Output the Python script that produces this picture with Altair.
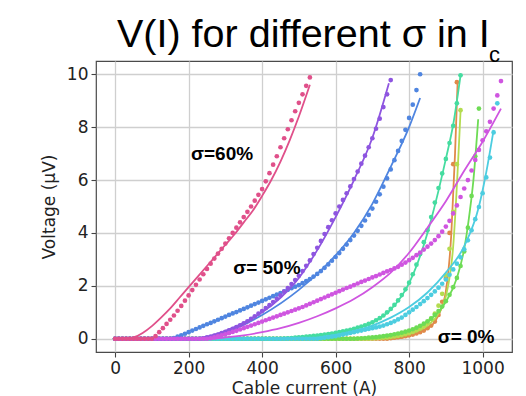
import altair as alt
import pandas as pd

# ---------------- data ----------------
# sigma = 60 % (pink)
pink_dot_I = list(range(0, 540, 10))
pink_dot_V = [0] * 11 + [0.1, 0.25, 0.4, 0.56, 0.72, 0.88, 1.06, 1.24, 1.44, 1.64,
                         1.84, 2.04, 2.24, 2.44, 2.64, 2.84, 3.03, 3.22, 3.4, 3.6,
                         3.8, 4.0, 4.2, 4.4, 4.6, 4.8, 5.0, 5.22, 5.44, 5.66,
                         5.95, 6.26, 6.58, 6.9, 7.24, 7.58, 7.92, 8.26, 8.6, 8.92,
                         9.24, 9.56, 9.88]
pink_fit_I = [0, 25, 50, 75, 100, 125, 150, 175, 200, 225, 250, 275, 300, 325, 350, 375, 400, 425, 450, 475, 500, 530]
pink_fit_V = [0, 0, 0.05, 0.22, 0.48, 0.8, 1.15, 1.55, 1.95, 2.35, 2.75, 3.15, 3.55, 3.95, 4.4, 4.85, 5.4, 6.0, 6.7, 7.5, 8.4, 9.6]

# purple
purple_dot_I = list(range(0, 760, 10))
purple_dot_V = [0] * 24 + [0.02, 0.05, 0.08, 0.12, 0.16, 0.21, 0.26, 0.32, 0.38, 0.44,
                           0.51, 0.58, 0.66, 0.75, 0.85, 0.95, 1.05, 1.16, 1.27, 1.39,
                           1.51, 1.64, 1.78, 1.92, 2.07, 2.22, 2.38, 2.56, 2.76, 2.96,
                           3.2, 3.44, 3.7, 3.96, 4.22, 4.48, 4.74, 5.0, 5.25, 5.5,
                           5.76, 6.04, 6.32, 6.62, 6.92, 7.24, 7.58, 7.94, 8.32, 8.76,
                           9.24, 9.78]
purple_fit_I = [0, 200, 250, 300, 350, 400, 450, 500, 550, 600, 650, 700, 745]
purple_fit_V = [0, 0, 0.08, 0.3, 0.6, 1.0, 1.55, 2.3, 3.35, 4.6, 6.0, 7.6, 9.66]

# blue
blue_dot_I = list(range(0, 840, 10))
blue_dot_V = [0] * 16 + [0.03, 0.08, 0.13, 0.19, 0.25, 0.31, 0.37, 0.43, 0.49, 0.55,
                         0.6, 0.66, 0.72, 0.78, 0.84, 0.9, 0.96, 1.01, 1.07, 1.13,
                         1.19, 1.25, 1.31, 1.37, 1.43, 1.49, 1.55, 1.61, 1.67, 1.73,
                         1.79, 1.85, 1.91, 1.97, 2.03, 2.1, 2.18, 2.26, 2.35, 2.45,
                         2.56, 2.68, 2.81, 2.95, 3.09, 3.24, 3.4, 3.56, 3.73, 3.9,
                         4.08, 4.27, 4.47, 4.68, 4.92, 5.18, 5.46, 5.75, 6.06, 6.4,
                         6.75, 7.1, 7.48, 7.9, 8.35, 8.85, 9.4, 10.0]
blue_fit_I = [0, 220, 300, 400, 500, 550, 600, 650, 700, 750, 800, 830]
blue_fit_V = [0, 0, 0.25, 0.9, 1.85, 2.45, 3.15, 4.0, 5.1, 6.5, 8.0, 9.1]

# magenta
magenta_dot_I = list(range(0, 1060, 10))
magenta_dot_V = [0] * 26 + [0.02, 0.05, 0.09, 0.13, 0.17, 0.21, 0.26, 0.3, 0.35, 0.4,
                            0.45, 0.5, 0.55, 0.6, 0.65, 0.7, 0.75, 0.8, 0.85, 0.9,
                            0.95, 1.0, 1.05, 1.1, 1.15, 1.2, 1.26, 1.32, 1.38, 1.44,
                            1.5, 1.56, 1.62, 1.68, 1.74, 1.8, 1.86, 1.92, 1.97, 2.03,
                            2.09, 2.15, 2.2, 2.26, 2.32, 2.37, 2.43, 2.49, 2.55, 2.6,
                            2.66, 2.72, 2.8, 2.88, 2.97, 3.06, 3.16, 3.26, 3.37, 3.48,
                            3.6, 3.73, 3.88, 4.05, 4.24, 4.46, 4.74, 5.04, 5.36, 5.68,
                            6.0, 6.36, 6.76, 7.14, 7.5, 7.84, 8.2, 8.7, 9.2, 9.74]
magenta_fit_I = [0, 250, 300, 350, 400, 450, 500, 550, 600, 650, 700, 750, 800, 850, 900, 950, 1000, 1050]
magenta_fit_V = [0, 0, 0.05, 0.13, 0.25, 0.4, 0.6, 0.85, 1.15, 1.5, 1.95, 2.5, 3.25, 4.2, 5.2, 6.35, 7.45, 8.7]

# cyan
cyan_dot_I = list(range(0, 1050, 10))
cyan_dot_V = [0] * 56 + [0.02, 0.04, 0.06, 0.08, 0.1, 0.13, 0.16, 0.19, 0.22, 0.25,
                         0.28, 0.31, 0.34, 0.37, 0.4, 0.43, 0.46, 0.5, 0.55, 0.6,
                         0.66, 0.73, 0.8, 0.9, 1.0, 1.1, 1.2, 1.31, 1.42, 1.54,
                         1.66, 1.79, 1.93, 2.08, 2.24, 2.42, 2.62, 2.84, 3.08, 3.38,
                         3.72, 4.1, 4.52, 4.98, 5.5, 6.1, 6.85, 7.8, 8.9]
cyan_fit_I = [0, 500, 600, 700, 750, 800, 850, 900, 950, 990, 1010, 1030]
cyan_fit_V = [0, 0, 0.15, 0.5, 0.8, 1.2, 1.75, 2.5, 3.5, 5.0, 6.3, 7.9]

# teal
teal_dot_I = list(range(0, 950, 10))
teal_dot_V = [0] * 46 + [0.01, 0.02, 0.03, 0.04, 0.05, 0.06, 0.08, 0.09, 0.11, 0.12,
                         0.14, 0.16, 0.18, 0.2, 0.22, 0.25, 0.28, 0.31, 0.34, 0.38,
                         0.42, 0.46, 0.51, 0.56, 0.62, 0.7, 0.78, 0.88, 1.0, 1.13,
                         1.28, 1.45, 1.65, 1.87, 2.12, 2.44, 2.8, 3.2, 3.65, 4.1,
                         4.6, 5.15, 5.7, 6.25, 6.8, 7.4, 8.05, 8.9, 9.96]
teal_fit_I = [0, 450, 550, 650, 700, 750, 800, 850, 880, 900, 920, 940]
teal_fit_V = [0, 0, 0.12, 0.38, 0.62, 1.1, 2.1, 4.0, 5.6, 6.8, 8.1, 9.96]

# green
green_dot_I = list(range(0, 1000, 10))
green_dot_V = [0] * 66 + [0.01, 0.02, 0.03, 0.04, 0.05, 0.06, 0.08, 0.1, 0.12, 0.14,
                          0.17, 0.2, 0.23, 0.27, 0.31, 0.36, 0.42, 0.49, 0.57, 0.66,
                          0.77, 0.9, 1.05, 1.22, 1.42, 1.66, 1.95, 2.3, 2.75, 3.3,
                          4.2, 5.4, 6.9, 8.7]
green_fit_I = [0, 650, 750, 850, 900, 930, 950, 965, 975, 988]
green_fit_V = [0, 0, 0.15, 0.65, 1.4, 2.3, 3.4, 4.8, 6.0, 8.3]

# yellow-green
yg_dot_I = list(range(0, 950, 10))
yg_dot_V = [0] * 70 + [0.01, 0.02, 0.03, 0.04, 0.05, 0.07, 0.09, 0.11, 0.14, 0.17,
                       0.21, 0.26, 0.32, 0.39, 0.48, 0.6, 0.75, 0.95, 1.25, 1.7,
                       2.4, 3.4, 4.8, 6.6, 8.64]
yg_fit_I = [0, 700, 800, 850, 880, 900, 920, 940]
yg_fit_V = [0, 0, 0.2, 0.5, 0.95, 1.6, 3.5, 8.6]

# orange (sigma = 0 %)
orange_dot_I = list(range(0, 940, 10))
orange_dot_V = [0] * 75 + [0.02, 0.04, 0.06, 0.08, 0.1, 0.13, 0.16, 0.2, 0.25, 0.31,
                           0.4, 0.5, 0.65, 0.9, 1.4, 2.3, 4.0, 6.6, 9.7]
orange_fit_I = [0, 750, 850, 880, 900, 915, 925, 932]
orange_fit_V = [0, 0, 0.4, 0.9, 1.8, 4.0, 7.0, 9.7]

series_names = ["orange", "yellowgreen", "green", "teal", "cyan", "blue", "purple", "magenta", "pink"]
series_colors = ["#e08a4a", "#b4dc50", "#6edc55", "#45dca0", "#4ccde0", "#4f85e0", "#8e55e0", "#cf55e0", "#e0508a"]
series_data = [
    (orange_dot_I, orange_dot_V, orange_fit_I, orange_fit_V),
    (yg_dot_I, yg_dot_V, yg_fit_I, yg_fit_V),
    (green_dot_I, green_dot_V, green_fit_I, green_fit_V),
    (teal_dot_I, teal_dot_V, teal_fit_I, teal_fit_V),
    (cyan_dot_I, cyan_dot_V, cyan_fit_I, cyan_fit_V),
    (blue_dot_I, blue_dot_V, blue_fit_I, blue_fit_V),
    (purple_dot_I, purple_dot_V, purple_fit_I, purple_fit_V),
    (magenta_dot_I, magenta_dot_V, magenta_fit_I, magenta_fit_V),
    (pink_dot_I, pink_dot_V, pink_fit_I, pink_fit_V),
]

ann_text = ["σ=60%", "σ= 50%", "σ= 0%"]
ann_I = [291, 413, 955]
ann_V = [7.0, 2.68, 0.07]

x_ticks = [0, 200, 400, 600, 800, 1000]
y_ticks = [0, 2, 4, 6, 8, 10]

# ---------------- chart ----------------
xs = alt.Scale(domain=[-52, 1080], nice=False, zero=False)
ys = alt.Scale(domain=[-0.5, 10.5], nice=False, zero=False)
x_axis = alt.Axis(values=x_ticks, format="d", title="Cable current (A)", titleY=41,
                  titleBaseline="alphabetic")
y_axis = alt.Axis(values=y_ticks, format="d", title="Voltage (μV)", titleX=-42, titleY=145.5,
                  titleBaseline="alphabetic", titleAlign="center", titleAngle=270)


def enc(ch):
    return ch.encode(
        x=alt.X("I:Q", scale=xs, axis=x_axis),
        y=alt.Y("V:Q", scale=ys, axis=y_axis),
    )


layers = []
for name, color, (dI, dV, fI, fV) in zip(series_names, series_colors, series_data):
    ddf = pd.DataFrame({"I": dI, "V": dV})
    fdf = pd.DataFrame({"I": fI, "V": fV})
    layers.append(enc(alt.Chart(ddf).mark_circle(size=22, opacity=1, color=color)))
    layers.append(enc(alt.Chart(fdf).mark_line(color=color, strokeWidth=1.8, interpolate="monotone")))

ann_df = pd.DataFrame({"t": ann_text, "I": ann_I, "V": ann_V})
layers.append(
    alt.Chart(ann_df).mark_text(fontSize=19, fontWeight="bold", font="Liberation Sans", color="black")
    .encode(x=alt.X("I:Q", scale=xs, axis=x_axis), y=alt.Y("V:Q", scale=ys, axis=y_axis), text="t:N")
)

title_df = pd.DataFrame({"t": ["V(I) for different σ in I"]})
layers.append(
    alt.Chart(title_df).mark_text(align="left", baseline="alphabetic", fontSize=39.5,
                                  font="Liberation Sans", color="black")
    .encode(text="t:N", x=alt.value(21), y=alt.value(-14))
)
sub_df = pd.DataFrame({"t": ["c"]})
layers.append(
    alt.Chart(sub_df).mark_text(align="left", baseline="alphabetic", fontSize=22,
                                font="Liberation Sans", color="black")
    .encode(text="t:N", x=alt.value(393), y=alt.value(0.5))
)

chart = (
    alt.layer(*layers)
    .properties(width=416, height=291, autosize=alt.AutoSizeParams(type="none"),
                padding={"left": 96, "top": 61, "right": 14, "bottom": 44})
    .configure_view(stroke="#4a4a4a", strokeWidth=1.2)
    .configure_axis(grid=True, gridColor="#cfcfcf", gridWidth=1.3, domain=False,
                    tickColor="#444", tickSize=5, tickWidth=1.1,
                    labelFont="DejaVu Sans", labelFontSize=17, labelColor="#222", labelPadding=3,
                    titleFont="DejaVu Sans", titleFontSize=17, titleColor="#222", titleFontWeight="normal")
)

chart.save("out.html", embed_options={"renderer": "svg", "actions": False})
